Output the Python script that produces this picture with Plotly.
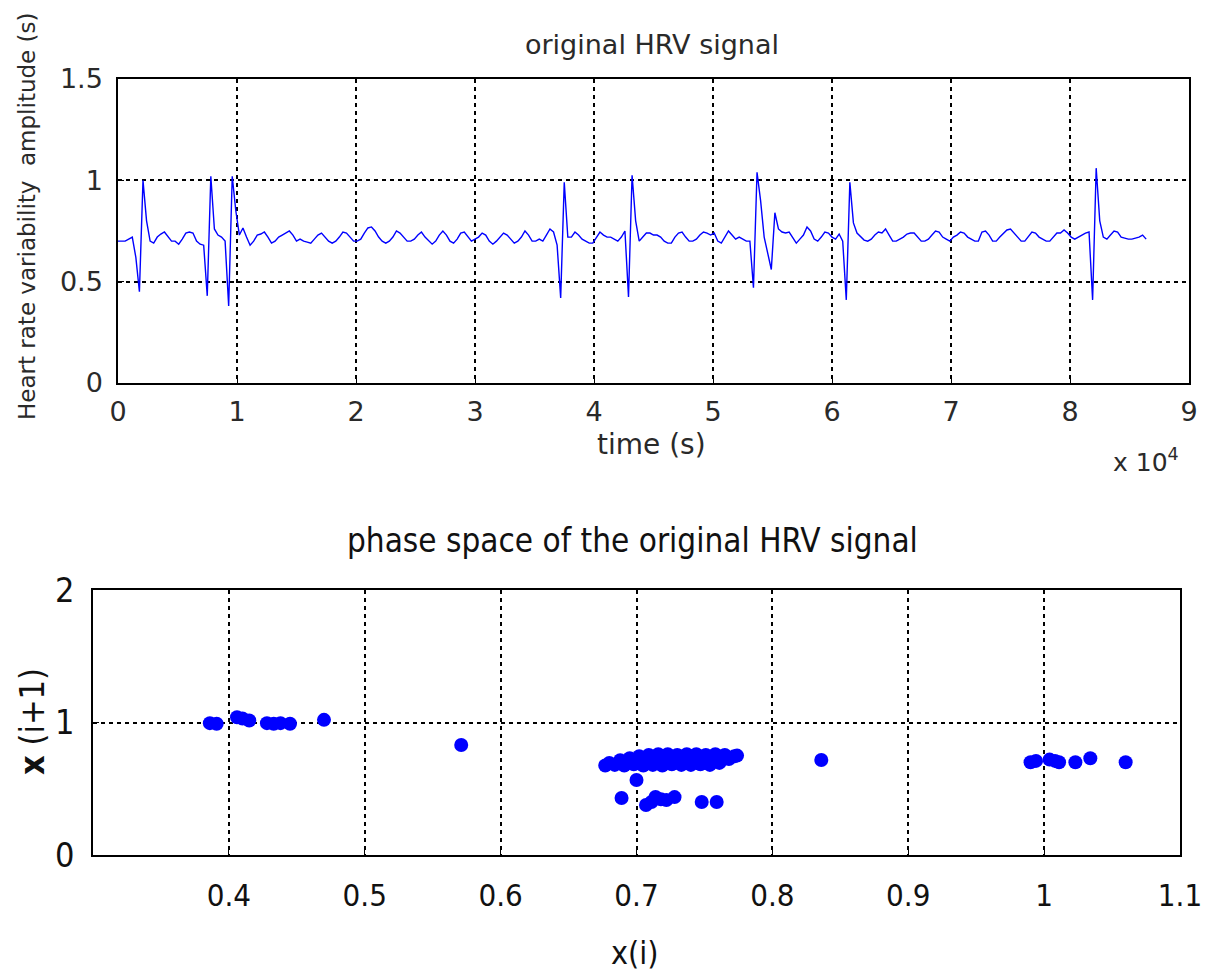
import plotly.graph_objects as go

# ---------------- data ----------------
sample_step_s = 300  # one value every 300 s, one row = 1 hour
hrv_rows = [
    [0.70, 0.70, 0.70, 0.71, 0.72, 0.62, 0.45, 1.00, 0.80, 0.70, 0.69, 0.72],
    [0.735, 0.745, 0.72, 0.70, 0.70, 0.685, 0.71, 0.74, 0.745, 0.74, 0.70, 0.685],
    [0.68, 0.43, 1.02, 0.76, 0.73, 0.72, 0.70, 0.38, 1.02, 0.85, 0.73, 0.765],
    [0.72, 0.68, 0.70, 0.73, 0.735, 0.745, 0.72, 0.69, 0.70, 0.72, 0.73, 0.74],
    [0.75, 0.73, 0.70, 0.71, 0.70, 0.695, 0.69, 0.71, 0.73, 0.74, 0.72, 0.70],
    [0.69, 0.70, 0.72, 0.745, 0.74, 0.72, 0.70, 0.70, 0.71, 0.74, 0.765, 0.77],
    [0.75, 0.72, 0.70, 0.69, 0.70, 0.72, 0.75, 0.74, 0.72, 0.70, 0.70, 0.71],
    [0.73, 0.745, 0.72, 0.70, 0.685, 0.70, 0.73, 0.75, 0.73, 0.70, 0.69, 0.71],
    [0.74, 0.745, 0.72, 0.70, 0.71, 0.72, 0.74, 0.73, 0.70, 0.685, 0.70, 0.72],
    [0.74, 0.73, 0.71, 0.69, 0.70, 0.72, 0.75, 0.73, 0.70, 0.70, 0.71, 0.70],
    [0.73, 0.76, 0.745, 0.68, 0.42, 0.99, 0.72, 0.72, 0.745, 0.73, 0.71, 0.70],
    [0.69, 0.69, 0.72, 0.745, 0.73, 0.72, 0.72, 0.71, 0.70, 0.72, 0.75, 0.425],
    [1.025, 0.80, 0.70, 0.72, 0.74, 0.74, 0.73, 0.73, 0.72, 0.70, 0.69, 0.69],
    [0.72, 0.74, 0.745, 0.72, 0.70, 0.70, 0.71, 0.73, 0.745, 0.74, 0.73, 0.74],
    [0.70, 0.69, 0.72, 0.75, 0.73, 0.71, 0.72, 0.71, 0.70, 0.70, 0.47, 1.04],
    [0.90, 0.72, 0.64, 0.56, 0.84, 0.76, 0.745, 0.74, 0.745, 0.72, 0.69, 0.71],
    [0.73, 0.77, 0.75, 0.71, 0.70, 0.72, 0.745, 0.74, 0.72, 0.71, 0.735, 0.70],
    [0.41, 0.99, 0.79, 0.74, 0.72, 0.705, 0.70, 0.71, 0.73, 0.745, 0.74, 0.76],
    [0.73, 0.70, 0.70, 0.71, 0.72, 0.735, 0.74, 0.74, 0.72, 0.70, 0.70, 0.71],
    [0.73, 0.75, 0.745, 0.72, 0.71, 0.70, 0.72, 0.73, 0.745, 0.74, 0.72, 0.71],
    [0.70, 0.70, 0.745, 0.75, 0.73, 0.70, 0.70, 0.72, 0.74, 0.755, 0.76, 0.74],
    [0.72, 0.70, 0.70, 0.72, 0.745, 0.74, 0.72, 0.71, 0.70, 0.70, 0.72, 0.74],
    [0.74, 0.755, 0.74, 0.72, 0.71, 0.72, 0.73, 0.74, 0.745, 0.41, 1.06, 0.80],
    [0.72, 0.71, 0.73, 0.75, 0.745, 0.72, 0.715, 0.71, 0.71, 0.715, 0.72, 0.73],
]
hrv_last = [0.71]
hrv_amplitude = [v for row in hrv_rows for v in row] + hrv_last
time_s = [i * sample_step_s for i in range(len(hrv_amplitude))]

time_tickvals = [0, 10000, 20000, 30000, 40000, 50000, 60000, 70000, 80000, 90000]
time_ticktext = ["0", "1", "2", "3", "4", "5", "6", "7", "8", "9"]
amp_tickvals = [0, 0.5, 1, 1.5]
amp_ticktext = ["0", "0.5", "1", "1.5"]

# main dense cluster around (0.7, 0.7)
cluster_xi = [
    0.677, 0.680, 0.684, 0.691, 0.698, 0.705, 0.712, 0.719, 0.726, 0.733,
    0.740, 0.747, 0.754, 0.761,
    0.688, 0.695, 0.702, 0.709, 0.716, 0.723, 0.730, 0.737, 0.744, 0.751,
    0.758, 0.765, 0.772, 0.774, 0.768,
]
cluster_xnext = [
    0.675, 0.695, 0.68, 0.675, 0.685, 0.675, 0.68, 0.675, 0.685, 0.68,
    0.68, 0.685, 0.68, 0.695,
    0.715, 0.73, 0.745, 0.755, 0.76, 0.76, 0.755, 0.76, 0.76, 0.755,
    0.76, 0.755, 0.745, 0.75, 0.725,
]
# isolated points (ectopic beats)
outlier_xi = [
    0.700, 0.689, 0.707, 0.711, 0.714, 0.718, 0.722, 0.728, 0.748, 0.759,
    0.836, 0.571,
    0.386, 0.391, 0.406, 0.410, 0.415, 0.428, 0.433, 0.438, 0.445, 0.470,
    0.990, 0.994, 1.004, 1.008, 1.011, 1.023, 1.034, 1.060,
]
outlier_xnext = [
    0.566, 0.43, 0.377, 0.40, 0.438, 0.42, 0.415, 0.437, 0.40, 0.40,
    0.717, 0.83,
    0.995, 0.99, 1.04, 1.03, 1.015, 0.995, 0.99, 0.995, 0.99, 1.02,
    0.70, 0.71, 0.72, 0.71, 0.70, 0.70, 0.73, 0.70,
]
phase_xi = cluster_xi + outlier_xi
phase_xnext = cluster_xnext + outlier_xnext

phase_x_tickvals = [0.4, 0.5, 0.6, 0.7, 0.8, 0.9, 1.0, 1.1]
phase_x_ticktext = ["0.4", "0.5", "0.6", "0.7", "0.8", "0.9", "1", "1.1"]
phase_y_tickvals = [0, 1, 2]
phase_y_ticktext = ["0", "1", "2"]

# ---------------- figure ----------------
W, H = 1212, 978
TOP_FONT = "DejaVu Sans, Liberation Sans, Arial, sans-serif"
NARROW_FONT = "Liberation Sans Narrow, Arial Narrow, DejaVu Sans Condensed, sans-serif"
BLUE = "#0000ff"

fig = go.Figure()
fig.add_trace(go.Scatter(
    x=time_s, y=hrv_amplitude, mode="lines",
    line=dict(color=BLUE, width=1.4), xaxis="x", yaxis="y", showlegend=False,
))
fig.add_trace(go.Scatter(
    x=phase_xi, y=phase_xnext, mode="markers",
    marker=dict(color=BLUE, size=14, line=dict(width=0)),
    xaxis="x2", yaxis="y2", showlegend=False,
))


def px_x(p):
    return p / W


def px_y(p):
    return 1 - p / H


grid_common = dict(
    showgrid=True, gridcolor="#000000", gridwidth=1.5, griddash="4px,4px",
    showline=True, linecolor="#000000", linewidth=1.5, mirror=True,
    ticks="inside", ticklen=6, tickcolor="#000000", zeroline=False,
    automargin=False,
)

fig.update_layout(
    width=W, height=H,
    margin=dict(l=0, r=0, t=0, b=0, autoexpand=False),
    paper_bgcolor="white", plot_bgcolor="white",
    xaxis=dict(
        domain=[px_x(118), px_x(1189)], range=[0, 90000],
        tickvals=time_tickvals, ticktext=time_ticktext,
        tickfont=dict(family=TOP_FONT, size=27, color="#2a2a2a"),
        ticklabelstandoff=4, anchor="y", **grid_common,
    ),
    yaxis=dict(
        domain=[px_y(383), px_y(79)], range=[0, 1.5],
        tickvals=amp_tickvals, ticktext=amp_ticktext,
        tickfont=dict(family=TOP_FONT, size=27, color="#2a2a2a"),
        ticklabelstandoff=8, anchor="x", **grid_common,
    ),
    xaxis2=dict(
        domain=[px_x(93), px_x(1180)], range=[0.3, 1.1],
        tickvals=phase_x_tickvals, ticktext=phase_x_ticktext,
        tickfont=dict(family=NARROW_FONT, size=31, color="#111"),
        ticklabelstandoff=12, anchor="y2", **grid_common,
    ),
    yaxis2=dict(
        domain=[px_y(855), px_y(590)], range=[0, 2],
        tickvals=phase_y_tickvals, ticktext=phase_y_ticktext,
        tickfont=dict(family=NARROW_FONT, size=34, color="#111"),
        ticklabelstandoff=10, anchor="x2", **grid_common,
    ),
)

annotations = [
    dict(text="original HRV signal", x=px_x(652), y=px_y(45),
         font=dict(family=TOP_FONT, size=27, color="#2a2a2a")),
    dict(text="time (s)", x=px_x(651), y=px_y(445),
         font=dict(family=TOP_FONT, size=28, color="#2a2a2a")),
    dict(text="x 10<sup>4</sup>", x=px_x(1146), y=px_y(460),
         font=dict(family=TOP_FONT, size=25, color="#2a2a2a")),
    dict(text="Heart rate variability  amplitude (s)", x=px_x(27), y=px_y(216),
         textangle=-90, font=dict(family=TOP_FONT, size=23, color="#2a2a2a")),
    dict(text="phase space of the original HRV signal", x=px_x(632), y=px_y(540),
         font=dict(family=NARROW_FONT, size=33, color="#111")),
    dict(text="x(i)", x=px_x(635), y=px_y(953),
         font=dict(family=NARROW_FONT, size=32, color="#111")),
    dict(text="<b>x</b> (i+1)", x=px_x(32), y=px_y(722), textangle=-90,
         font=dict(family=NARROW_FONT, size=34, color="#111")),
]
for a in annotations:
    a.update(xref="paper", yref="paper", xanchor="center", yanchor="middle",
             showarrow=False)
fig.update_layout(annotations=annotations)

fig.write_html("out.html")
